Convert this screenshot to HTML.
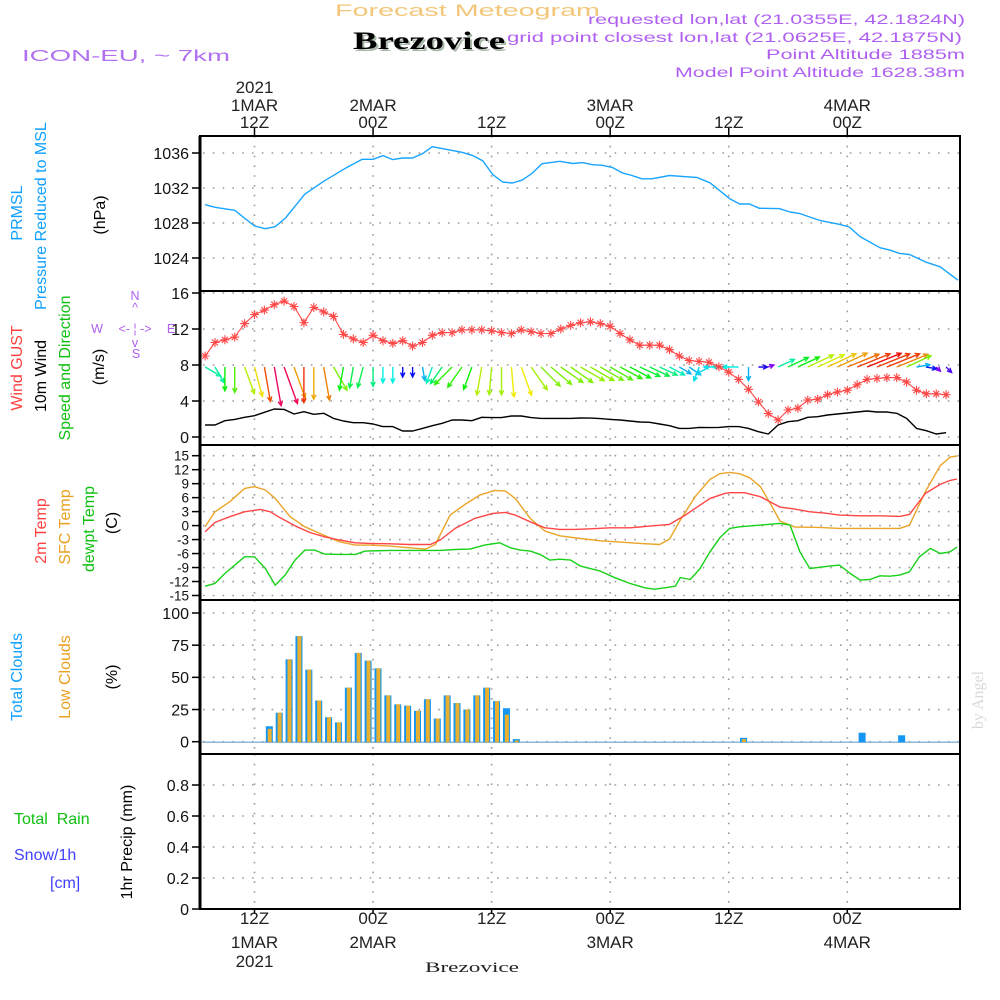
<!DOCTYPE html>
<html><head><meta charset="utf-8"><title>Meteogram Brezovice</title>
<style>
html,body{margin:0;padding:0;background:#fff;}
svg{display:block;font-family:"Liberation Sans",sans-serif;}
</style></head>
<body>
<svg id="chart" xmlns="http://www.w3.org/2000/svg" width="1000" height="1000" viewBox="0 0 1000 1000">
<rect x="0" y="0" width="1000" height="1000" fill="#fff"/>
<!-- header -->
<text x="335" y="16" font-size="17" fill="#f3c77a" textLength="265" lengthAdjust="spacingAndGlyphs">Forecast Meteogram</text>
<text x="355" y="51" font-family="Liberation Serif,serif" font-weight="bold" font-size="25" fill="#a9b8a9" textLength="152" lengthAdjust="spacingAndGlyphs">Brezovice</text>
<text x="353" y="49" font-family="Liberation Serif,serif" font-weight="bold" font-size="25" fill="#000" textLength="152" lengthAdjust="spacingAndGlyphs">Brezovice</text>
<text x="22" y="61" font-size="16" fill="#b070f0" textLength="208" lengthAdjust="spacingAndGlyphs">ICON-EU, ~ 7km</text>
<text x="965" y="24" font-size="14" fill="#b060f0" text-anchor="end" textLength="377" lengthAdjust="spacingAndGlyphs">requested lon,lat (21.0355E, 42.1824N)</text>
<text x="962" y="42" font-size="14" fill="#b060f0" text-anchor="end" textLength="455" lengthAdjust="spacingAndGlyphs">grid point closest lon,lat (21.0625E, 42.1875N)</text>
<text x="965" y="59" font-size="14" fill="#b060f0" text-anchor="end" textLength="199" lengthAdjust="spacingAndGlyphs">Point Altitude 1885m</text>
<text x="965" y="77" font-size="14" fill="#b060f0" text-anchor="end" textLength="290" lengthAdjust="spacingAndGlyphs">Model Point Altitude 1628.38m</text>
<!-- left axis titles -->
<g font-size="16" text-anchor="middle" dominant-baseline="middle">
<text transform="translate(18,213) rotate(-90)" fill="#10a0ff">PRMSL</text>
<text transform="translate(42,216) rotate(-90)" fill="#10a0ff">Pressure Reduced to MSL</text>
<text transform="translate(101,215) rotate(-90)" fill="#000">(hPa)</text>
<text transform="translate(18,368) rotate(-90)" fill="#ff4040">Wind GUST</text>
<text transform="translate(42,376) rotate(-90)" fill="#000">10m Wind</text>
<text transform="translate(66,368) rotate(-90)" fill="#10c010">Speed and Direction</text>
<text transform="translate(100,367) rotate(-90)" fill="#000">(m/s)</text>
<text transform="translate(42,531) rotate(-90)" fill="#ff4040">2m Temp</text>
<text transform="translate(66,527) rotate(-90)" fill="#eaa020">SFC Temp</text>
<text transform="translate(90,529) rotate(-90)" fill="#10c010">dewpt Temp</text>
<text transform="translate(113,523) rotate(-90)" fill="#000">(C)</text>
<text transform="translate(18,677) rotate(-90)" fill="#10a0ff">Total Clouds</text>
<text transform="translate(66,677) rotate(-90)" fill="#eaa020">Low Clouds</text>
<text transform="translate(113,677) rotate(-90)" fill="#000">(%)</text>
<text transform="translate(128,842) rotate(-90)" fill="#000">1hr Precip (mm)</text>
</g>
<text x="14" y="824" font-size="16" fill="#10c010" xml:space="preserve">Total  Rain</text>
<text x="14" y="860" font-size="16" fill="#4040ff">Snow/1h</text>
<text x="50" y="888" font-size="16" fill="#4040ff">[cm]</text>
<!-- compass -->
<g font-size="12.5" fill="#b060f0" text-anchor="middle">
<text x="135" y="300">N</text>
<text x="135" y="312">^</text>
<text x="97" y="333">W</text>
<text x="135" y="333">&lt;- ¦ -&gt;</text>
<text x="171" y="333">E</text>
<text x="135" y="347">v</text>
<text x="136" y="358">S</text>
</g>
<text transform="translate(983,700) rotate(-90)" font-family="Liberation Serif,serif" font-size="16" fill="#d8d8d8" text-anchor="middle">by Angel</text>
<text x="425" y="972" font-family="Liberation Serif,serif" font-size="15" fill="#222" textLength="94" lengthAdjust="spacingAndGlyphs">Brezovice</text>
<g id="plot"></g>
</svg>
<script>
// ---------- DATA ----------
const timeTickHours = [12, 24, 36, 48, 60, 72];
const timeTickHour = ["12Z", "00Z", "12Z", "00Z", "12Z", "00Z"];
const timeTickDay = ["1MAR", "2MAR", "", "3MAR", "", "4MAR"];
const timeTickYear = ["2021", "", "", "", "", ""];

const pressureTicks = [1036, 1032, 1028, 1024];
const pressureHours = [7.0,8.0,10.0,12.0,13.1,14.1,15.1,17.1,19.1,21.2,22.9,24.0,25.0,26.0,27.0,28.0,29.0,30.0,33.0,34.1,35.1,36.1,37.1,38.1,39.1,40.1,41.1,42.9,44.2,45.2,46.2,47.2,48.2,49.2,50.2,51.2,52.2,54.0,55.8,56.8,58.1,60.1,61.1,62.1,63.1,65.1,66.2,67.2,69.2,71.2,72.2,73.3,75.3,76.3,77.3,78.3,79.9,81.4,83.2];
const pressureValues = [1030.1,1029.8,1029.45,1027.66,1027.35,1027.58,1028.53,1031.3,1032.84,1034.25,1035.28,1035.28,1035.7,1035.24,1035.43,1035.43,1035.92,1036.72,1036.08,1035.7,1035.12,1033.56,1032.69,1032.57,1032.9,1033.68,1034.78,1035.05,1034.8,1034.9,1034.66,1034.6,1034.35,1033.74,1033.43,1033.05,1033.05,1033.43,1033.28,1033.2,1032.59,1030.78,1030.17,1030.17,1029.68,1029.64,1029.26,1029.07,1028.3,1027.85,1027.54,1026.44,1025.18,1024.9,1024.53,1024.4,1023.56,1022.99,1021.46];

const windTicks = [16, 12, 8, 4, 0];
const windStartHour = 7;
const gustValues = [9.0,10.5,10.8,11.1,12.6,13.6,14.1,14.7,15.1,14.5,12.7,14.4,13.9,13.4,11.4,10.9,10.5,11.3,10.7,10.4,10.7,10.1,10.5,11.3,11.6,11.6,11.9,11.9,11.9,11.8,11.6,11.5,11.9,11.7,11.5,11.5,12.0,12.4,12.7,12.8,12.6,12.3,11.5,10.8,10.2,10.2,10.2,9.7,9.0,8.5,8.4,8.3,7.8,7.2,6.4,5.3,3.9,2.6,1.9,3.0,3.2,4.1,4.2,4.7,5.0,5.2,5.8,6.4,6.5,6.6,6.6,6.1,5.2,4.8,4.8,4.7];
const windValues = [1.33,1.33,1.81,1.96,2.19,2.37,2.74,3.11,3.07,2.56,2.81,2.52,2.63,2.07,1.78,1.59,1.59,1.44,1.15,1.15,0.67,0.67,0.96,1.26,1.52,1.89,1.89,1.81,2.19,2.15,2.15,2.33,2.33,2.15,2.07,2.07,2.07,2.07,2.11,2.1,2.04,1.96,1.89,1.78,1.67,1.63,1.44,1.26,0.96,0.96,1.07,1.04,1.07,1.15,1.15,0.96,0.59,0.33,1.33,1.70,1.81,2.19,2.26,2.44,2.56,2.67,2.78,2.89,2.78,2.78,2.63,2.07,0.96,0.70,0.33,0.48];
// bearing (deg) the arrow points toward
const windToward = [120,150,180,180,160,165,170,170,160,160,180,180,170,150,190,190,195,180,180,180,180,180,170,200,215,225,215,200,190,185,180,175,160,145,135,130,125,125,120,120,120,120,118,118,115,115,115,118,120,125,200,240,270,270,270,180,90,70,65,65,65,65,65,65,65,68,68,68,68,68,68,65,80,100,135,135];

const tempTicks = [15,12,9,6,3,0,-3,-6,-9,-12,-15];
const t2Hours = [7.0,8.0,9.5,11.0,12.6,13.6,14.6,16.1,17.6,19.1,20.6,22.2,23.7,25.7,27.7,29.8,30.8,32.3,34.3,36.1,37.4,38.4,39.9,41.4,42.9,44.4,46.0,48.0,50.0,52.0,54.0,55.6,56.6,58.1,59.6,60.1,61.6,63.2,65.2,66.7,68.2,69.7,71.2,73.3,75.3,77.3,78.3,79.9,81.4,82.4,83.1];
const t2Values = [-1.32,0.68,1.9,2.97,3.47,2.97,1.68,-0.04,-1.47,-2.4,-3.1,-3.7,-3.83,-3.9,-4.05,-4.05,-3.1,-0.6,1.54,2.61,2.83,2.26,0.82,-0.47,-0.82,-0.82,-0.68,-0.47,-0.47,-0.11,0.25,2.26,3.69,5.84,6.91,7.05,7.05,6.2,3.97,3.54,2.97,2.68,2.26,2.1,2.1,1.97,2.4,6.91,8.84,9.7,9.99];
const sfcHours = [7.0,8.0,9.5,11.0,12.0,13.1,14.1,15.6,17.1,18.6,20.6,22.2,23.7,25.7,27.7,29.3,30.3,31.8,33.3,34.8,36.3,37.4,38.4,39.9,41.4,42.9,45.0,47.0,49.0,51.0,53.0,54.0,55.1,56.6,58.1,59.1,60.1,61.1,62.1,63.2,64.2,65.2,66.7,69.2,71.2,74.3,77.3,78.3,79.9,81.4,82.4,83.1];
const sfcValues = [-0.25,2.97,5.12,7.98,8.34,7.63,5.84,1.9,-0.25,-1.68,-3.47,-4.19,-4.19,-4.4,-4.76,-5.05,-4.05,2.26,4.55,6.55,7.55,7.41,5.84,1.54,-1.18,-2.18,-2.76,-3.26,-3.54,-3.83,-4.05,-2.9,1.18,6.2,9.92,11.13,11.42,11.13,10.27,8.34,4.76,0.97,-0.32,-0.39,-0.6,-0.6,-0.6,0.11,7.27,12.85,14.71,14.93];
const dewHours = [7.0,8.0,9.0,11.0,12.0,13.1,14.1,15.1,16.1,17.1,18.1,19.1,20.6,22.2,23.2,25.7,28.2,30.8,32.3,33.8,35.3,36.8,37.9,38.9,39.9,40.9,41.9,42.9,44.0,45.0,47.0,48.5,50.0,51.5,52.5,53.5,54.6,55.1,56.1,57.1,58.1,59.1,60.1,61.1,63.2,65.2,66.2,67.2,68.2,70.2,71.2,72.3,73.3,74.3,75.3,76.3,77.3,78.3,79.3,80.4,81.4,82.4,83.1];
const dewValues = [-13.0,-12.4,-10.27,-6.69,-6.69,-9.2,-12.78,-10.63,-7.4,-5.26,-5.26,-6.12,-6.19,-6.19,-5.48,-5.33,-5.33,-5.33,-5.12,-5.05,-4.19,-3.69,-4.76,-5.26,-5.48,-6.19,-7.4,-7.2,-7.4,-8.7,-9.77,-11.2,-12.4,-13.35,-13.64,-13.35,-13.0,-11.13,-11.56,-9.2,-5.62,-2.61,-0.61,-0.25,0.11,0.47,0.11,-5.62,-9.2,-8.7,-8.48,-10.27,-11.7,-11.56,-10.78,-10.85,-10.63,-9.92,-6.69,-4.9,-5.98,-5.62,-4.62];

const cloudTicks = [100, 75, 50, 25, 0];
const cloudStartHour = 7.5;
const totalClouds = [0,0,0,0,0,0,12,22.5,64,82,56,32,19,15,42,69,63,57,36,29,28,24,33,18,36,30,25,36,42,31.5,26,2,0,0,0,0,0,0,0,0,0,0,0,0,0,0,0,0,0,0,0,0,0,0,3,0,0,0,0,0,0,0,0,0,0,0,7,0,0,0,5,0,0,0,0,0];
const lowClouds = [0,0,0,0,0,0,10,22.5,64,82,56,32,19,15,42,69,63,57,36,29,28,24,33,18,36,30,25,36,42,31.5,21,1,0,0,0,0,0,0,0,0,0,0,0,0,0,0,0,0,0,0,0,0,0,0,2,0,0,0,0,0,0,0,0,0,0,0,0,0,0,0,0,0,0,0,0,0];

const precipTicks = [0.8, 0.6, 0.4, 0.2, 0];
const precipTickLabels = ["0.8", "0.6", "0.4", "0.2", "0"];

// ---------- SCALES ----------
const X0 = 200, X1 = 960;
const xOf = h => 254.5 + (h - 12) * 9.88;
const yP = p => 153 + (1036 - p) * 8.75;
const yW = v => 437 - v * 9;
const yT = t => 455.7 + (15 - t) * 4.66;
const yC = c => 741.7 - c * 1.287;
const yR = r => 909 - r * 155;
const panels = [[136, 291], [291, 445], [445, 600], [600, 754], [754, 909]];

const NS = "http://www.w3.org/2000/svg";
const plot = document.getElementById("plot");
function mk(tag, attrs, parent) {
  const e = document.createElementNS(NS, tag);
  for (const k in attrs) e.setAttribute(k, attrs[k]);
  (parent || plot).appendChild(e);
  return e;
}
const gridStyle = {stroke: "#9a9a9a", "stroke-width": 1.6, "stroke-dasharray": "1.6,8.2", fill: "none"};

panels.forEach(([a, b]) => {
  timeTickHours.forEach(h => {
    const g = mk("line", Object.assign({x1: xOf(h), x2: xOf(h), y1: a, y2: b}, gridStyle));
    
    
  });
});

function yAxis(ticks, labels, scale, name, fs) {
  ticks.forEach((t, i) => {
    const y = scale(t);
    const g = mk("line", Object.assign({x1: X0 + 3, x2: X1, y1: y, y2: y}, gridStyle));
    
    
    const tk = mk("line", {x1: 192, x2: X0, y1: y, y2: y, stroke: "#000", "stroke-width": 1.5});
    
    
    const tx = mk("text", {x: 189, y: y + fs * 0.36, "font-size": fs, "text-anchor": "end", fill: "#111"});
    tx.textContent = labels[i];
    
    
  });
}
yAxis(pressureTicks, pressureTicks.map(String), yP, "pressure-axis", 16);
yAxis(windTicks, windTicks.map(String), yW, "wind-axis", 16);
yAxis(tempTicks, tempTicks.map(String), yT, "temp-axis", 13.5);
yAxis(cloudTicks, cloudTicks.map(String), yC, "cloud-axis", 16);
yAxis(precipTicks, precipTickLabels, yR, "precip-axis", 16);

timeTickHours.forEach((h, i) => {
  const x = xOf(h);
  const t1 = mk("line", {x1: x, x2: x, y1: 128, y2: 136, stroke: "#000", "stroke-width": 1.5});
  
  
  const t2 = mk("line", {x1: x, x2: x, y1: 909, y2: 914, stroke: "#000", "stroke-width": 1.5});
  
  
  const rows = [[timeTickHour[i], 128, 924], [timeTickDay[i], 111, 948], [timeTickYear[i], 93, 967]];
  rows.forEach(([s, yt, yb]) => {
    if (!s) return;
    const a = mk("text", {x: x, y: yt, "font-size": 17, "text-anchor": "middle", fill: "#222"});
    a.textContent = s;
    
    
    const b = mk("text", {x: x, y: yb, "font-size": 17, "text-anchor": "middle", fill: "#222"});
    b.textContent = s;
    
    
  });
});

function polyline(hs, vs, ys, color, name, w) {
  const pts = hs.map((h, i) => xOf(h).toFixed(1) + "," + ys(vs[i]).toFixed(1)).join(" ");
  const p = mk("polyline", {points: pts, fill: "none", stroke: color, "stroke-width": w || 1.4, "stroke-linejoin": "round"});
  
  
  return p;
}

polyline(pressureHours, pressureValues, yP, "#18a4ff", "pressure-line", 1.4);

const windHours = windValues.map((v, i) => windStartHour + i);
const gustHours = gustValues.map((v, i) => windStartHour + i);

function speedColor(s) {
  const stops = [[0.3, 275], [0.7, 235], [1.0, 190], [1.8, 120], [2.3, 62], [2.6, 35], [2.9, 0], [3.2, -35]];
  let hue = stops[0][1];
  if (s >= stops[stops.length - 1][0]) hue = stops[stops.length - 1][1];
  for (let i = 0; i < stops.length - 1; i++) {
    if (s >= stops[i][0] && s <= stops[i + 1][0]) {
      const f = (s - stops[i][0]) / (stops[i + 1][0] - stops[i][0]);
      hue = stops[i][1] + f * (stops[i + 1][1] - stops[i][1]);
    }
  }
  return "hsl(" + ((hue + 360) % 360).toFixed(0) + ",95%,48%)";
}
windValues.forEach((s, i) => {
  const x = xOf(windHours[i]);
  const y = 367;
  const L = 12 * s + 2;
  const b = windToward[i] * Math.PI / 180;
  const dx = Math.sin(b), dy = -Math.cos(b);
  const ex = x + dx * L, ey = y + dy * L;
  const hl = 5, ang = 0.45;
  const back = Math.atan2(-dy, -dx);
  const h1x = ex + hl * Math.cos(back + ang), h1y = ey + hl * Math.sin(back + ang);
  const h2x = ex + hl * Math.cos(back - ang), h2y = ey + hl * Math.sin(back - ang);
  const a = mk("path", {d: `M${x.toFixed(1)},${y} L${ex.toFixed(1)},${ey.toFixed(1)} M${h1x.toFixed(1)},${h1y.toFixed(1)} L${ex.toFixed(1)},${ey.toFixed(1)} L${h2x.toFixed(1)},${h2y.toFixed(1)}`, stroke: speedColor(s), "stroke-width": 1.4, fill: "none"});
  
  
});

polyline(windHours, windValues, yW, "#000", "wind-speed-line", 1.4);
polyline(gustHours, gustValues, yW, "#ff4848", "wind-gust-line", 1.1);
gustValues.forEach((v, i) => {
  const x = xOf(gustHours[i]), y = yW(v);
  const m = mk("path", {d: `M${x - 4.5},${y} H${x + 4.5} M${x},${y - 4.5} V${y + 4.5} M${x - 3},${y - 3} L${x + 3},${y + 3} M${x - 3},${y + 3} L${x + 3},${y - 3}`, stroke: "#ff4848", "stroke-width": 1.1, fill: "none"});
  
  
});

polyline(sfcHours, sfcValues, yT, "#eaa428", "sfc-temp-line", 1.4);
polyline(t2Hours, t2Values, yT, "#ff4646", "temp-2m-line", 1.4);
polyline(dewHours, dewValues, yT, "#18d018", "dewpoint-line", 1.4);

const zl = mk("line", {x1: X0 + 2, x2: X1, y1: yC(0) + 0.5, y2: yC(0) + 0.5, stroke: "#8fb8d8", "stroke-width": 1.5});


totalClouds.forEach((c, k) => {
  const x = xOf(cloudStartHour + k);
  if (c > 0) {
    const r = mk("rect", {x: x - 3.5, y: yC(c), width: 7, height: yC(0) - yC(c) + 0.5, fill: "#1496f2"});
    
    
  }
  const l = lowClouds[k];
  if (l > 0) {
    const r2 = mk("rect", {x: x - 1.6, y: yC(l), width: 4, height: yC(0) - yC(l) + 0.5, fill: "#e8b02e"});
    
    
  }
});

panels.forEach(([a, b], i) => {
  const r = mk("rect", {x: X0, y: a, width: X1 - X0, height: b - a, fill: "none", stroke: "#000", "stroke-width": 2});
  
  
});
const la = mk("line", {x1: X0, x2: X0, y1: 136, y2: 909, stroke: "#000", "stroke-width": 3});


</script>
</body></html>
